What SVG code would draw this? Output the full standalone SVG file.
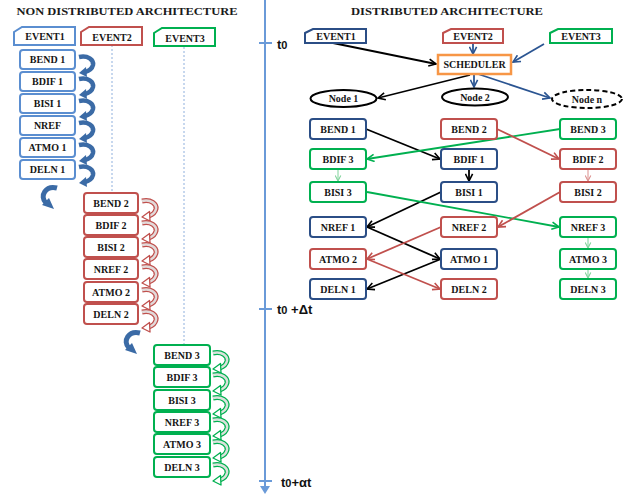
<svg xmlns="http://www.w3.org/2000/svg" width="629" height="497" viewBox="0 0 629 497">
<style>
.t{font-family:"Liberation Serif","Times New Roman",serif;font-weight:bold;font-size:10px;fill:#151515;text-anchor:middle}
.ttl{font-family:"Liberation Serif","Times New Roman",serif;font-weight:bold;font-size:11px;fill:#1a1a1a;text-anchor:middle}
.tl{font-family:"Liberation Sans",Arial,sans-serif;font-weight:bold;font-size:13px;fill:#111}
.bx{fill:#fff;stroke-width:2}
.lb{stroke:#5B8ED0}
.db{stroke:#2B4E86}
.rd{stroke:#C0504D}
.gr{stroke:#00B050}
.ln{fill:none;stroke-width:1.8}
.thin{fill:none;stroke-width:1}
</style>
<defs>
<marker id="mk" viewBox="0 0 10 10" refX="9" refY="5" markerWidth="9" markerHeight="9" markerUnits="userSpaceOnUse" orient="auto"><path d="M1,1 L9,5 L1,9" fill="none" stroke="#000" stroke-width="1.8"/></marker>
<marker id="mb" viewBox="0 0 10 10" refX="9" refY="5" markerWidth="9" markerHeight="9" markerUnits="userSpaceOnUse" orient="auto"><path d="M1,1 L9,5 L1,9" fill="none" stroke="#2B5592" stroke-width="1.8"/></marker>
<marker id="mr" viewBox="0 0 10 10" refX="9" refY="5" markerWidth="9" markerHeight="9" markerUnits="userSpaceOnUse" orient="auto"><path d="M1,1 L9,5 L1,9" fill="none" stroke="#C0504D" stroke-width="1.8"/></marker>
<marker id="mg" viewBox="0 0 10 10" refX="9" refY="5" markerWidth="9" markerHeight="9" markerUnits="userSpaceOnUse" orient="auto"><path d="M1,1 L9,5 L1,9" fill="none" stroke="#00B050" stroke-width="1.8"/></marker>
<marker id="mlg" viewBox="0 0 10 10" refX="9" refY="5" markerWidth="7" markerHeight="7" markerUnits="userSpaceOnUse" orient="auto"><path d="M1,1 L9,5 L1,9" fill="none" stroke="#7FD39A" stroke-width="1.5"/></marker>
<marker id="mlr" viewBox="0 0 10 10" refX="9" refY="5" markerWidth="7" markerHeight="7" markerUnits="userSpaceOnUse" orient="auto"><path d="M1,1 L9,5 L1,9" fill="none" stroke="#DB8E8C" stroke-width="1.5"/></marker>
<g id="cb">
<path d="M0,1 C9,-1 15,4 14,9 C13,13 10,15 6,16" fill="none" stroke="#3B6BA6" stroke-width="4.5"/>
<polygon points="0,17 7,11 8,21" fill="#3B6BA6"/>
</g>
<g id="cr">
<path d="M0,1 C9,-1 15,4 14,9 C13,13 10,15 7,16" fill="none" stroke="#C0504D" stroke-width="5"/>
<path d="M0,1 C9,-1 15,4 14,9 C13,13 10,15 7,16" fill="none" stroke="#E2DADA" stroke-width="2.5"/>
<polygon points="0,17 7.5,11.5 8,21" fill="#fff" stroke="#C0504D" stroke-width="1.3" stroke-linejoin="round"/>
</g>
<g id="cg">
<path d="M0,1 C9,-1 15,4 14,9 C13,13 10,15 7,16" fill="none" stroke="#00B050" stroke-width="5"/>
<path d="M0,1 C9,-1 15,4 14,9 C13,13 10,15 7,16" fill="none" stroke="#DAE2DC" stroke-width="2.5"/>
<polygon points="0,17 7.5,11.5 8,21" fill="#fff" stroke="#00B050" stroke-width="1.3" stroke-linejoin="round"/>
</g>
<g id="big">
<path d="M17,2 C6,-1 -1,10 6,17" fill="none" stroke="#3B6BA6" stroke-width="5"/>
<polygon points="14,23 9,12 2,19" fill="#3B6BA6"/>
</g>
</defs>
<rect width="629" height="497" fill="#fff"/>

<!-- titles -->
<text class="ttl" x="127" y="15" textLength="221" lengthAdjust="spacingAndGlyphs">NON DISTRIBUTED ARCHITECTURE</text>
<text class="ttl" x="447" y="15" textLength="192" lengthAdjust="spacingAndGlyphs">DISTRIBUTED ARCHITECTURE</text>

<!-- timeline -->
<g id="timeline">
<line x1="265" y1="0" x2="265" y2="488" stroke="#6A9AD8" stroke-width="2"/>
<polygon points="260,486 270,486 265,494" fill="#6A9AD8"/>
<line x1="259" y1="43" x2="272" y2="43" stroke="#6A9AD8" stroke-width="2"/>
<line x1="259" y1="309" x2="272" y2="309" stroke="#6A9AD8" stroke-width="2"/>
<line x1="259" y1="481" x2="272" y2="481" stroke="#6A9AD8" stroke-width="2"/>
<text class="tl" x="277" y="49">t<tspan font-size="11">0</tspan></text>
<text class="tl" x="277" y="314">t<tspan font-size="11">0</tspan> +Δt</text>
<text class="tl" x="281" y="487">t<tspan font-size="11">0</tspan>+αt</text>
</g>

<!-- left side connectors -->
<g id="left-connectors">
<line x1="112" y1="45" x2="112" y2="192" stroke="#8FB0DD" stroke-width="1" stroke-dasharray="2,2"/>
<line x1="184" y1="47" x2="184" y2="345" stroke="#8FB0DD" stroke-width="1" stroke-dasharray="2,2"/>
<use href="#cb" x="79" y="56"/><use href="#cb" x="79" y="78"/><use href="#cb" x="79" y="100"/>
<use href="#cb" x="79" y="122"/><use href="#cb" x="79" y="144"/><use href="#cb" x="79" y="166"/>
<use href="#cr" x="142" y="200"/><use href="#cr" x="142" y="222"/><use href="#cr" x="142" y="244"/>
<use href="#cr" x="142" y="266"/><use href="#cr" x="142" y="289"/><use href="#cr" x="142" y="311"/>
<use href="#cg" x="213" y="352"/><use href="#cg" x="213" y="374"/><use href="#cg" x="213" y="397"/>
<use href="#cg" x="213" y="419"/><use href="#cg" x="213" y="441"/><use href="#cg" x="213" y="464"/>
<use href="#big" x="40" y="186"/>
<use href="#big" x="123" y="331"/>
</g>

<!-- left events -->
<g id="L-EVENT1"><polygon class="bx lb" points="14,32 22,27 75,27 75,45 14,45"/><text class="t" x="45" y="40">EVENT1</text></g>
<g id="L-EVENT2"><polygon class="bx rd" points="81,32 89,27 142,27 142,45 81,45"/><text class="t" x="112" y="41">EVENT2</text></g>
<g id="L-EVENT3"><polygon class="bx gr" points="154,33 162,28 215,28 215,46 154,46"/><text class="t" x="185" y="42">EVENT3</text></g>

<!-- left blue -->
<g id="L-BEND1"><rect class="bx lb" x="20" y="50" width="55" height="19" rx="3"/><text class="t" x="47.5" y="63">BEND 1</text></g>
<g id="L-BDIF1"><rect class="bx lb" x="20" y="72" width="55" height="19" rx="3"/><text class="t" x="47.5" y="85">BDIF 1</text></g>
<g id="L-BISI1"><rect class="bx lb" x="20" y="94" width="55" height="19" rx="3"/><text class="t" x="47.5" y="107">BISI 1</text></g>
<g id="L-NREF"><rect class="bx lb" x="20" y="116" width="55" height="19" rx="3"/><text class="t" x="47.5" y="129">NREF</text></g>
<g id="L-ATMO1"><rect class="bx lb" x="20" y="138" width="55" height="19" rx="3"/><text class="t" x="47.5" y="151">ATMO 1</text></g>
<g id="L-DELN1"><rect class="bx lb" x="20" y="160" width="55" height="19" rx="3"/><text class="t" x="47.5" y="173">DELN 1</text></g>

<!-- left red -->
<g id="L-BEND2"><rect class="bx rd" x="84" y="193" width="54" height="20" rx="3"/><text class="t" x="111" y="206.5">BEND 2</text></g>
<g id="L-BDIF2"><rect class="bx rd" x="84" y="215" width="54" height="20" rx="3"/><text class="t" x="111" y="228.5">BDIF 2</text></g>
<g id="L-BISI2"><rect class="bx rd" x="84" y="237" width="54" height="20" rx="3"/><text class="t" x="111" y="250.5">BISI 2</text></g>
<g id="L-NREF2"><rect class="bx rd" x="84" y="259" width="54" height="20" rx="3"/><text class="t" x="111" y="272.5">NREF 2</text></g>
<g id="L-ATMO2"><rect class="bx rd" x="84" y="282" width="54" height="20" rx="3"/><text class="t" x="111" y="295.5" font-size="9">ATMO 2</text></g>
<g id="L-DELN2"><rect class="bx rd" x="84" y="304" width="54" height="20" rx="3"/><text class="t" x="111" y="317.5">DELN 2</text></g>

<!-- left green -->
<g id="L-BEND3"><rect class="bx gr" x="154" y="345" width="56" height="20" rx="3"/><text class="t" x="182" y="358.5">BEND 3</text></g>
<g id="L-BDIF3"><rect class="bx gr" x="154" y="367" width="56" height="20" rx="3"/><text class="t" x="182" y="380.5">BDIF 3</text></g>
<g id="L-BISI3"><rect class="bx gr" x="154" y="390" width="56" height="20" rx="3"/><text class="t" x="182" y="403.5">BISI 3</text></g>
<g id="L-NREF3"><rect class="bx gr" x="154" y="412" width="56" height="20" rx="3"/><text class="t" x="182" y="425.5">NREF 3</text></g>
<g id="L-ATMO3"><rect class="bx gr" x="154" y="434" width="56" height="20" rx="3"/><text class="t" x="182" y="447.5">ATMO 3</text></g>
<g id="L-DELN3"><rect class="bx gr" x="154" y="457" width="56" height="20" rx="3"/><text class="t" x="182" y="470.5">DELN 3</text></g>

<!-- right connectors -->
<g id="connectors">
<line class="ln" x1="333" y1="43" x2="436" y2="64" stroke="#000" marker-end="url(#mk)"/>
<line class="ln" x1="473" y1="43" x2="473" y2="54" stroke="#2B5592" marker-end="url(#mb)"/>
<line class="ln" x1="544" y1="44" x2="513" y2="62" stroke="#2B5592" marker-end="url(#mb)"/>
<line class="ln" x1="470" y1="75" x2="378" y2="98" stroke="#000" marker-end="url(#mk)"/>
<line class="ln" x1="474" y1="75" x2="474" y2="87" stroke="#2B5592" marker-end="url(#mb)"/>
<line class="ln" x1="478" y1="74" x2="550" y2="98" stroke="#2B5592" marker-end="url(#mb)"/>

<line class="ln" x1="366" y1="129" x2="440" y2="159" stroke="#000" marker-end="url(#mk)"/>
<line class="ln" x1="469" y1="169" x2="469" y2="181" stroke="#000" marker-end="url(#mk)"/>
<line class="ln" x1="441" y1="192" x2="367" y2="227" stroke="#000" marker-end="url(#mk)"/>
<line class="ln" x1="367" y1="227" x2="440" y2="259" stroke="#000" marker-end="url(#mk)"/>
<line class="ln" x1="441" y1="259" x2="367" y2="289" stroke="#000" marker-end="url(#mk)"/>

<line class="ln" x1="560" y1="129" x2="367" y2="159" stroke="#00B050" marker-end="url(#mg)"/>
<line class="ln" x1="367" y1="192" x2="559" y2="227" stroke="#00B050" marker-end="url(#mg)"/>
<line class="thin" x1="338" y1="169" x2="338" y2="181" stroke="#7FD39A" marker-end="url(#mlg)"/>
<line class="thin" x1="588" y1="237" x2="588" y2="248" stroke="#7FD39A" marker-end="url(#mlg)"/>
<line class="thin" x1="588" y1="269" x2="588" y2="278" stroke="#7FD39A" marker-end="url(#mlg)"/>

<line class="ln" x1="497" y1="129" x2="559" y2="159" stroke="#C0504D" marker-end="url(#mr)"/>
<line class="ln" x1="560" y1="192" x2="498" y2="227" stroke="#C0504D" marker-end="url(#mr)"/>
<line class="ln" x1="441" y1="227" x2="367" y2="259" stroke="#C0504D" marker-end="url(#mr)"/>
<line class="ln" x1="367" y1="259" x2="440" y2="289" stroke="#C0504D" marker-end="url(#mr)"/>
<line class="thin" x1="588" y1="169" x2="588" y2="181" stroke="#DB8E8C" marker-end="url(#mlr)"/>
</g>

<!-- right events -->
<g id="R-EVENT1"><polygon class="bx db" points="305,33 313,29 366,29 366,43 305,43"/><text class="t" x="336" y="40">EVENT1</text></g>
<g id="R-EVENT2"><polygon class="bx rd" points="443,33 451,29 503,29 503,43 443,43"/><text class="t" x="473" y="40">EVENT2</text></g>
<g id="R-EVENT3"><polygon class="bx gr" points="550,33 558,29 612,29 612,43 550,43"/><text class="t" x="581" y="40">EVENT3</text></g>
<g id="SCHEDULER"><rect x="438" y="55" width="73" height="19" fill="#fff" stroke="#F79646" stroke-width="2.5"/><text class="t" x="474.5" y="68" font-size="9">SCHEDULER</text></g>
<g id="Node1"><ellipse cx="343.5" cy="98.5" rx="33" ry="8.5" fill="#fff" stroke="#000" stroke-width="2"/><text class="t" x="343.5" y="102" font-size="9.5">Node 1</text></g>
<g id="Node2"><ellipse cx="475" cy="97" rx="33" ry="8.5" fill="#fff" stroke="#000" stroke-width="2"/><text class="t" x="475" y="100.5" font-size="9.5">Node 2</text></g>
<g id="Noden"><ellipse cx="587" cy="99" rx="35" ry="9" fill="#fff" stroke="#000" stroke-width="2" stroke-dasharray="5,3"/><text class="t" x="587" y="102.5" font-size="9.5">Node n</text></g>

<!-- right grid -->
<g id="R-BEND1"><rect class="bx db" x="310" y="119" width="56" height="20" rx="3"/><text class="t" x="338" y="132.5">BEND 1</text></g>
<g id="R-BEND2"><rect class="bx rd" x="441" y="119" width="56" height="20" rx="3"/><text class="t" x="469" y="132.5">BEND 2</text></g>
<g id="R-BEND3"><rect class="bx gr" x="560" y="119" width="56" height="20" rx="3"/><text class="t" x="588" y="132.5">BEND 3</text></g>
<g id="R-BDIF3"><rect class="bx gr" x="310" y="149" width="56" height="20" rx="3"/><text class="t" x="338" y="162.5">BDIF 3</text></g>
<g id="R-BDIF1"><rect class="bx db" x="441" y="149" width="56" height="20" rx="3"/><text class="t" x="469" y="162.5">BDIF 1</text></g>
<g id="R-BDIF2"><rect class="bx rd" x="560" y="149" width="56" height="20" rx="3"/><text class="t" x="588" y="162.5">BDIF 2</text></g>
<g id="R-BISI3"><rect class="bx gr" x="310" y="182" width="56" height="20" rx="3"/><text class="t" x="338" y="195.5">BISI 3</text></g>
<g id="R-BISI1"><rect class="bx db" x="441" y="182" width="56" height="20" rx="3"/><text class="t" x="469" y="195.5">BISI 1</text></g>
<g id="R-BISI2"><rect class="bx rd" x="560" y="182" width="56" height="20" rx="3"/><text class="t" x="588" y="195.5">BISI 2</text></g>
<g id="R-NREF1"><rect class="bx db" x="310" y="217" width="56" height="20" rx="3"/><text class="t" x="338" y="230.5">NREF 1</text></g>
<g id="R-NREF2"><rect class="bx rd" x="441" y="217" width="56" height="20" rx="3"/><text class="t" x="469" y="230.5">NREF 2</text></g>
<g id="R-NREF3"><rect class="bx gr" x="560" y="217" width="56" height="20" rx="3"/><text class="t" x="588" y="230.5">NREF 3</text></g>
<g id="R-ATMO2"><rect class="bx rd" x="310" y="249" width="56" height="20" rx="3"/><text class="t" x="338" y="262.5">ATMO 2</text></g>
<g id="R-ATMO1"><rect class="bx db" x="441" y="249" width="56" height="20" rx="3"/><text class="t" x="469" y="262.5">ATMO 1</text></g>
<g id="R-ATMO3"><rect class="bx gr" x="560" y="249" width="56" height="20" rx="3"/><text class="t" x="588" y="262.5">ATMO 3</text></g>
<g id="R-DELN1"><rect class="bx db" x="310" y="279" width="56" height="20" rx="3"/><text class="t" x="338" y="292.5">DELN 1</text></g>
<g id="R-DELN2"><rect class="bx rd" x="441" y="279" width="56" height="20" rx="3"/><text class="t" x="469" y="292.5">DELN 2</text></g>
<g id="R-DELN3"><rect class="bx gr" x="560" y="279" width="56" height="20" rx="3"/><text class="t" x="588" y="292.5">DELN 3</text></g>
</svg>
